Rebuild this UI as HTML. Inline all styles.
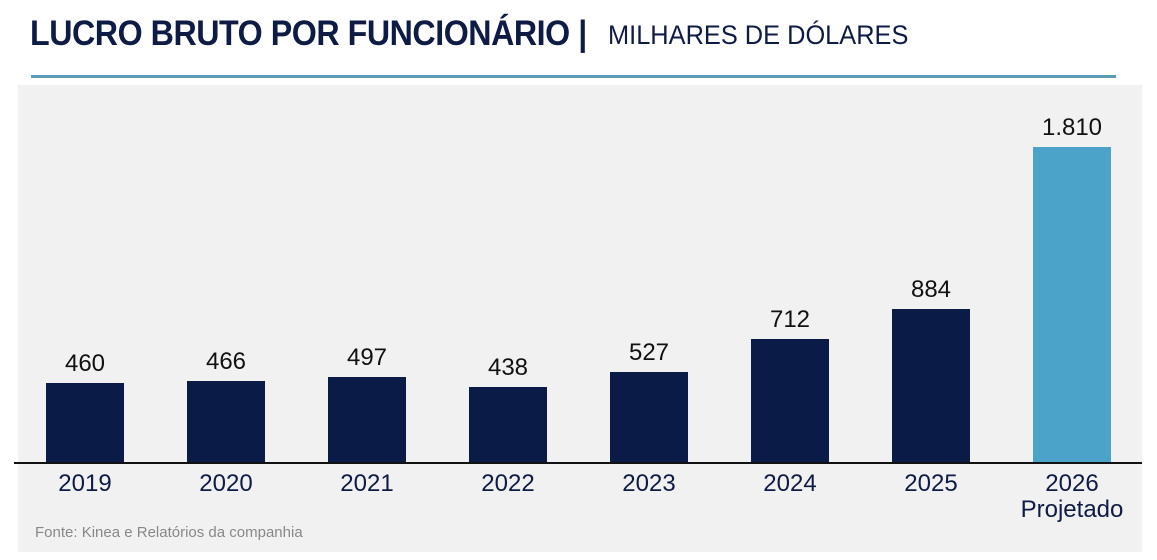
<!DOCTYPE html>
<html><head><meta charset="utf-8"><style>
body{margin:0;width:1157px;height:560px;background:#fff;position:relative;overflow:hidden;font-family:"Liberation Sans",sans-serif}
.t{position:absolute;top:14px;left:30px;font-size:35px;font-weight:bold;color:#0d1b45;white-space:nowrap;transform:scaleX(0.92);transform-origin:left top;letter-spacing:-0.5px}
.s{position:absolute;top:20px;left:608px;font-size:27px;color:#0d1b45;white-space:nowrap;transform:scaleX(0.94);transform-origin:left top}
.line{position:absolute;left:31px;top:75px;width:1085px;height:3px;background:#5b9bb8}
.panel{position:absolute;left:18px;top:85px;width:1124px;height:467px;background:#f1f1f1}
.axis{position:absolute;left:14px;top:462px;width:1128px;height:2px;background:#111}
.b{position:absolute;width:78px;background:#0b1b48}
.v{position:absolute;width:120px;text-align:center;font-size:24px;color:#111}
.y{position:absolute;width:140px;text-align:center;font-size:24px;color:#0d1b45;top:471px;line-height:26px}
.f{position:absolute;left:35px;top:524px;font-size:15px;color:#888}
</style></head><body>
<div class="t">LUCRO BRUTO POR FUNCIONÁRIO |</div>
<div class="s">MILHARES DE DÓLARES</div>
<div class="line"></div>
<div class="panel"></div>
<div class="b" style="left:46px;top:383px;height:80px"></div>
<div class="b" style="left:187px;top:381px;height:82px"></div>
<div class="b" style="left:328px;top:377px;height:86px"></div>
<div class="b" style="left:469px;top:387px;height:76px"></div>
<div class="b" style="left:610px;top:372px;height:91px"></div>
<div class="b" style="left:751px;top:339px;height:124px"></div>
<div class="b" style="left:892px;top:309px;height:154px"></div>
<div class="b" style="left:1033px;top:147px;height:316px;background:#4ba3c9"></div>
<div class="axis"></div>
<div class="v" style="left:25px;top:350px">460</div>
<div class="v" style="left:166px;top:348px">466</div>
<div class="v" style="left:307px;top:344px">497</div>
<div class="v" style="left:448px;top:354px">438</div>
<div class="v" style="left:589px;top:339px">527</div>
<div class="v" style="left:730px;top:306px">712</div>
<div class="v" style="left:871px;top:276px">884</div>
<div class="v" style="left:1012px;top:114px">1.810</div>
<div class="y" style="left:15px">2019</div>
<div class="y" style="left:156px">2020</div>
<div class="y" style="left:297px">2021</div>
<div class="y" style="left:438px">2022</div>
<div class="y" style="left:579px">2023</div>
<div class="y" style="left:720px">2024</div>
<div class="y" style="left:861px">2025</div>
<div class="y" style="left:1002px">2026<br>Projetado</div>
<div class="f">Fonte: Kinea e Relatórios da companhia</div>
</body></html>
